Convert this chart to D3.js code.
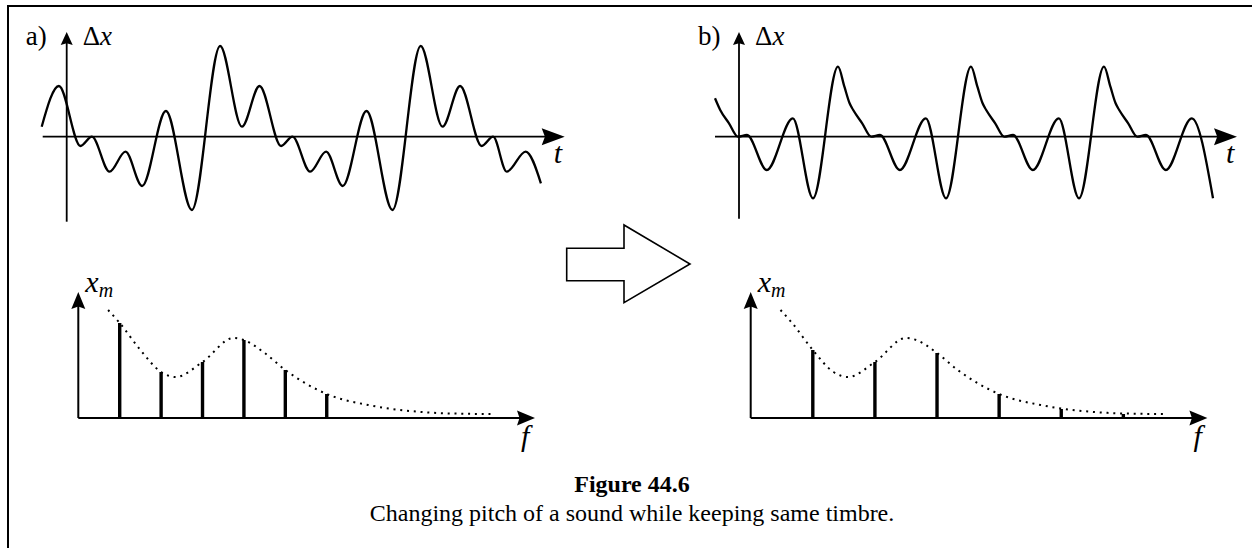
<!DOCTYPE html>
<html>
<head>
<meta charset="utf-8">
<script src="https://cdn.jsdelivr.net/npm/d3@7"></script>
<style>
  html, body { margin: 0; padding: 0; background: #fff; }
  svg { display: block; }
</style>
</head>
<body>
<svg id="fig" width="1252" height="548"></svg>
<script>
// ---- Panel a: original sound, displacement vs time (t, Δx) ----
const waveA = [
  [-1.25, 1.0], [-0.39, 5.07], [0.69, -0.93], [1.26, 0], [2.14, -3.5],
  [2.94, -1.5], [3.77, -4.93], [4.96, 2.57], [6.26, -7.33], [7.67, 9.07],
  [8.76, 1.0], [9.64, 5.07], [10.72, -0.93], [11.29, 0], [12.17, -3.5],
  [12.97, -1.5], [13.8, -4.93], [14.99, 2.57], [16.29, -7.33], [17.7, 9.07],
  [18.79, 1.0], [19.67, 5.07], [20.75, -0.93], [21.32, 0], [22.0, -3.5],
  [22.95, -1.5], [23.71, -4.66]
];

// ---- Panel b: same timbre at higher pitch ----
const waveB = [
  [-1.2, 3.84], [-0.94, 2.67], [-0.5, 1.34], [-0.05, 0], [0.4, 0.17],
  [1.39, -3.33], [2.69, 1.84], [3.7, -6.16],
  [4.95, 7.0], [5.27, 5.0], [5.53, 3.34], [5.71, 2.67], [6.16, 1.34], [6.61, 0],
  [7.05, 0.17], [8.04, -3.33], [9.34, 1.84], [10.35, -6.16],
  [11.6, 7.0], [11.92, 5.0], [12.18, 3.34], [12.36, 2.67], [12.81, 1.34], [13.26, 0],
  [13.7, 0.17], [14.69, -3.33], [15.99, 1.84], [17.0, -6.16],
  [18.25, 7.0], [18.57, 5.0], [18.83, 3.34], [19.01, 2.67], [19.46, 1.34], [19.91, 0],
  [20.35, 0.17], [21.34, -3.33], [22.64, 1.84], [23.7, -6.16]
];

// ---- Spectral envelope (timbre), shared by both sounds: [f, x_m] ----
const envelope = [
  [0.72, 1.08], [1.0, 0.95], [1.5, 0.68], [2.0, 0.46], [2.35, 0.41],
  [3.0, 0.56], [3.75, 0.80], [4.0, 0.78], [4.5, 0.65], [5.0, 0.48],
  [6.0, 0.24], [7.0, 0.13], [7.5, 0.095], [8.3, 0.06], [9.0, 0.045], [10.0, 0.04]
];

// ---- Harmonic lines ----
const harmonicsA = [1, 2, 3, 4, 5, 6];
const amplitudesA = [0.95, 0.46, 0.56, 0.78, 0.48, 0.24];
const harmonicsB = [1.5, 3, 4.5, 6, 7.5, 9];
const amplitudesB = [0.68, 0.56, 0.65, 0.24, 0.09, 0.04];

// ---- Text ----
const panelLabels = ["a)", "b)"];
const captionTitle = "Figure 44.6";
const captionText = "Changing pitch of a sound while keeping same timbre.";

const SERIF = "Liberation Serif";
const svg = d3.select("#fig").attr("font-family", SERIF);

// outer frame (open at right and bottom)
svg.append("rect")
  .attr("x", 8).attr("y", 6).attr("width", 1300).attr("height", 600)
  .attr("fill", "none").attr("stroke", "#000").attr("stroke-width", 2);

// arrowhead with a slightly concave back; angle in degrees
function arrowHead(g, x, y, angle, len, half) {
  const p = `M0,0 L${-len},${-half} L${-len * 0.86},0 L${-len},${half} Z`;
  g.append("path")
    .attr("d", p)
    .attr("transform", `translate(${x},${y}) rotate(${angle})`)
    .attr("fill", "#000");
}

function label(g, x, y, size, italic) {
  return g.append("text")
    .attr("x", x).attr("y", y)
    .attr("font-family", SERIF)
    .attr("font-size", size)
    .attr("font-style", italic ? "italic" : "normal")
    .attr("fill", "#000");
}

// ---- time-domain panels ----
const yTop = d3.scaleLinear().domain([-10, 10]).range([236.7, 36.7]);
const tRange = [-1.2, 24.9];
const vTop = 10.47;

function timePanel(x0, wave, name, vBottom) {
  const x = d3.scaleLinear().domain([0, 25]).range([x0, x0 + 500]);
  const g = svg.append("g");

  // axes
  g.append("line")
    .attr("x1", x(tRange[0])).attr("x2", x(tRange[1]) - 12)
    .attr("y1", yTop(0)).attr("y2", yTop(0))
    .attr("stroke", "#000").attr("stroke-width", 1.8);
  arrowHead(g, x(tRange[1]), yTop(0), 0, 23, 8.5);

  g.append("line")
    .attr("x1", x(0)).attr("x2", x(0))
    .attr("y1", yTop(vBottom)).attr("y2", yTop(vTop) + 8)
    .attr("stroke", "#000").attr("stroke-width", 1.8);
  arrowHead(g, x(0), yTop(vTop), -90, 13, 6);

  // waveform
  const line = d3.line()
    .x(d => x(d[0])).y(d => yTop(d[1]))
    .curve(d3.curveMonotoneX);
  g.append("path")
    .datum(wave)
    .attr("d", line)
    .attr("fill", "none").attr("stroke", "#000")
    .attr("stroke-width", 2.3).attr("stroke-linejoin", "round");

  // labels
  label(g, x(0) - 41, 45, 27, false).text(name);
  const dx = label(g, x(0) + 16, 45, 27, false);
  dx.append("tspan").text("Δ");
  dx.append("tspan").attr("font-style", "italic").text("x");
  label(g, x(tRange[1]) - 11, 163, 30, true).text("t");
}

timePanel(66.7, waveA, panelLabels[0], -8.5);
timePanel(739, waveB, panelLabels[1], -8.2);

// ---- spectrum panels ----
const amp = d3.scaleLinear().domain([0, 1.26]).range([418, 292]);

function spectrumPanel(x0, freqs, amps) {
  const f = d3.scaleLinear().domain([0, 11.03]).range([x0, x0 + 456.7]);
  const g = svg.append("g");

  // envelope
  const env = d3.line()
    .x(d => f(d[0])).y(d => amp(d[1]))
    .curve(d3.curveMonotoneX);
  g.append("path")
    .datum(envelope)
    .attr("d", env)
    .attr("fill", "none").attr("stroke", "#000")
    .attr("stroke-width", 2).attr("stroke-dasharray", "2 4.8");

  // harmonic lines
  g.selectAll("line.h")
    .data(freqs.map((fr, i) => [fr, amps[i]]))
    .join("line")
    .attr("class", "h")
    .attr("x1", d => f(d[0])).attr("x2", d => f(d[0]))
    .attr("y1", amp(0)).attr("y2", d => amp(d[1]))
    .attr("stroke", "#000").attr("stroke-width", 3.4);

  // axes
  g.append("line")
    .attr("x1", f(0)).attr("x2", f(11.03) - 10)
    .attr("y1", amp(0)).attr("y2", amp(0))
    .attr("stroke", "#000").attr("stroke-width", 2);
  arrowHead(g, f(11.03), amp(0), 0, 18, 7.5);

  g.append("line")
    .attr("x1", f(0)).attr("x2", f(0))
    .attr("y1", amp(0)).attr("y2", amp(1.26) + 10)
    .attr("stroke", "#000").attr("stroke-width", 2);
  arrowHead(g, f(0), amp(1.26), -90, 17, 7);

  // labels
  const xm = label(g, f(0) + 7, 292, 30, true);
  xm.append("tspan").text("x");
  xm.append("tspan").attr("font-size", 20).attr("dy", 5).text("m");
  label(g, f(11.03) - 14, 446, 30, true).text("f");
}

spectrumPanel(78.3, harmonicsA, amplitudesA);
spectrumPanel(750.7, harmonicsB, amplitudesB);

// ---- hollow arrow between the panels ----
const arrowPts = [[566.7, 248.3], [624, 248.3], [624, 225], [690, 264],
                  [624, 302.7], [624, 280.7], [566.7, 280.7]];
svg.append("polygon")
  .attr("points", arrowPts.map(p => p.join(",")).join(" "))
  .attr("fill", "#fff").attr("stroke", "#000").attr("stroke-width", 1.6);

// ---- caption ----
label(svg, 632, 492, 24, false)
  .attr("text-anchor", "middle").attr("font-weight", "bold")
  .text(captionTitle);
label(svg, 632, 521, 24, false)
  .attr("text-anchor", "middle")
  .text(captionText);
</script>
</body>
</html>
